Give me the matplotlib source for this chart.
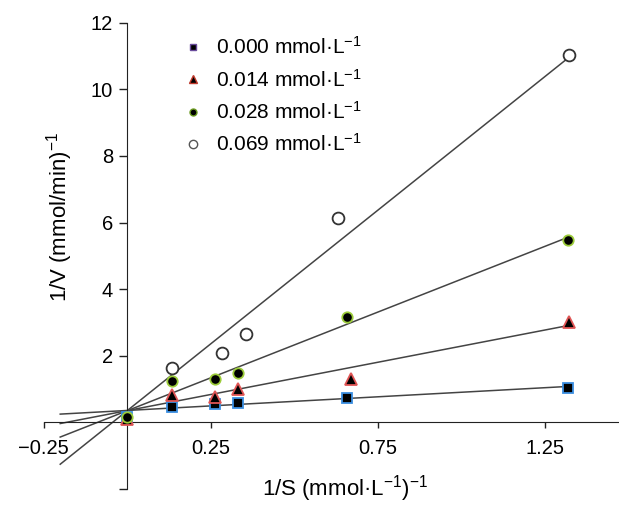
import numpy as np
import matplotlib
matplotlib.use("Agg")
from matplotlib import pyplot as plt
from matplotlib.lines import Line2D

plt.rcParams['font.family'] = ['Liberation Sans', 'DejaVu Sans']
plt.rcParams['mathtext.fontset'] = 'custom'
plt.rcParams['mathtext.rm'] = 'Liberation Sans'
plt.rcParams['mathtext.it'] = 'Liberation Sans'

# inhibitor concentrations (mmol/L)
conc_labels = ['0.000', '0.014', '0.028', '0.069']

# 1/S and 1/V values
x_000 = [0.0, 0.133, 0.264, 0.331, 0.657, 1.318]
y_000 = [0.15, 0.47, 0.54, 0.59, 0.72, 1.04]

x_014 = [0.0, 0.133, 0.264, 0.331, 0.670, 1.320]
y_014 = [0.10, 0.82, 0.75, 0.99, 1.30, 3.00]

x_028 = [0.0, 0.133, 0.264, 0.331, 0.657, 1.318]
y_028 = [0.15, 1.25, 1.29, 1.49, 3.16, 5.49]

x_069 = [0.133, 0.285, 0.355, 0.632, 1.320]
y_069 = [1.64, 2.09, 2.66, 6.15, 11.02]

# fitted Lineweaver-Burk lines (intercept, slope)
intercepts = [0.358, 0.353, 0.35, 0.35]
slopes = [0.547, 1.937, 3.95, 8.03]
line_x = [-0.2, 1.32]

xs = [x_000, x_014, x_028, x_069]
ys = [y_000, y_014, y_028, y_069]

styles = [
    dict(marker='s', ms=7, mfc='black', mec='#3a8ee0', mew=1.3),
    dict(marker='^', ms=8, mfc='black', mec='#e05555', mew=1.3),
    dict(marker='o', ms=7.5, mfc='black', mec='#9ccc3a', mew=1.3),
    dict(marker='o', ms=8.5, mfc='white', mec='#333333', mew=1.3),
]
leg_styles = [
    dict(marker='s', ms=5, mfc='black', mec='#6a4c9c', mew=1),
    dict(marker='^', ms=5.5, mfc='black', mec='#c0392b', mew=1),
    dict(marker='o', ms=5, mfc='black', mec='#6a9a20', mew=1),
    dict(marker='o', ms=6, mfc='white', mec='#555555', mew=1),
]

fig = plt.figure(figsize=(6.19, 5.07), dpi=100)
ax = fig.add_axes([0.0703, 0.0355, 0.9297, 0.9197])

lx = np.array(line_x)
for a, b in zip(intercepts, slopes):
    ax.plot(lx, a + b * lx, color='#444444', lw=1.1, zorder=1)

for x, y, st in zip(xs, ys, styles):
    ax.plot(x, y, ls='none', zorder=3, **st)

ax.set_xlim(-0.25, 1.471)
ax.set_ylim(-2, 12)

ax.spines['top'].set_visible(False)
ax.spines['right'].set_visible(False)
ax.spines['left'].set_position(('data', 0))
ax.spines['bottom'].set_position(('data', 0))
ax.spines['left'].set_color('#222222')
ax.spines['bottom'].set_color('#222222')

ax.set_xticks([-0.25, 0.25, 0.75, 1.25])
ax.set_xticklabels(['\u22120.25', '0.25', '0.75', '1.25'])
ax.set_yticks([-2, 2, 4, 6, 8, 10, 12])
ax.set_yticklabels(['', '2', '4', '6', '8', '10', '12'])
ax.tick_params(axis='x', direction='out', length=4, width=1, pad=8, labelsize=14.5, color='#222222')
ax.tick_params(axis='y', direction='out', length=6, width=1, pad=4, labelsize=14.5, color='#222222')

fig.text(0.557, 0.006, '1/S (mmol\u00b7L$^{-1}$)$^{-1}$', ha='center', va='bottom', fontsize=16)
fig.text(0.097, 0.572, '1/V (mmol/min)$^{-1}$', ha='center', va='center', fontsize=16, rotation=90)

handles = [Line2D([], [], ls='none', **st) for st in leg_styles]
labels = [c + ' mmol\u00b7L$^{-1}$' for c in conc_labels]
ax.legend(handles, labels, loc='upper left', bbox_to_anchor=(0.282, 0.949),
          bbox_transform=fig.transFigure, frameon=False, fontsize=15,
          handlelength=0.8, handletextpad=0.7, labelspacing=0.5, borderpad=0)

fig.savefig('out.png', dpi=100)
